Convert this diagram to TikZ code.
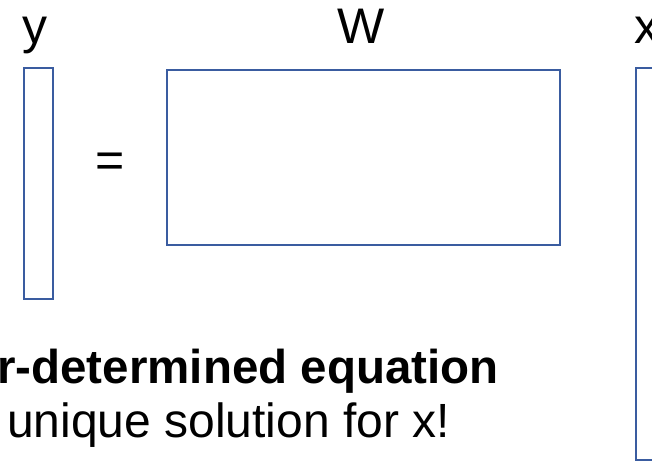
\documentclass[tikz,border=0pt]{standalone}
\usepackage{fontspec}
\setmainfont{Liberation Sans}
\usepackage{xcolor}
\usepackage{tikz}
\usetikzlibrary{positioning}

\definecolor{matblue}{RGB}{58,92,160}

\begin{document}
\begin{tikzpicture}[
    x=1pt, y=-1pt,
    mat/.style={draw=matblue, line width=2.5pt, rectangle, inner sep=0pt, fill=white},
    lbl/.style={font=\fontsize{50}{60}\selectfont, inner sep=0pt, anchor=base},
    txt/.style={font=\fontsize{48}{58}\selectfont, inner sep=0pt, anchor=base west}
]
\useasboundingbox[fill=white] (0,0) rectangle (652,463);
\node[mat, minimum width=29pt, minimum height=231pt] (Y) at (38.5,183.5) {};
\node[mat, minimum width=393pt, minimum height=175pt] (W) at (363.5,157.5) {};
\node[mat, minimum width=29pt, minimum height=392pt] (X) at (650.5,264) {};
\node[lbl] (ylbl) at (35,43) {y};
\node[lbl] (Wlbl) at (361,43) {W};
\node[lbl, anchor=base west] (xlbl) at (634,43) {x};
\node[lbl] (eq) at (110,177) {=};
\node[txt, font=\fontsize{47.5}{57}\selectfont\bfseries] (title) at (-3,383) {r-determined equation};
\node[txt] (note) at (7,437) {unique solution for x!};
\end{tikzpicture}
\end{document}
